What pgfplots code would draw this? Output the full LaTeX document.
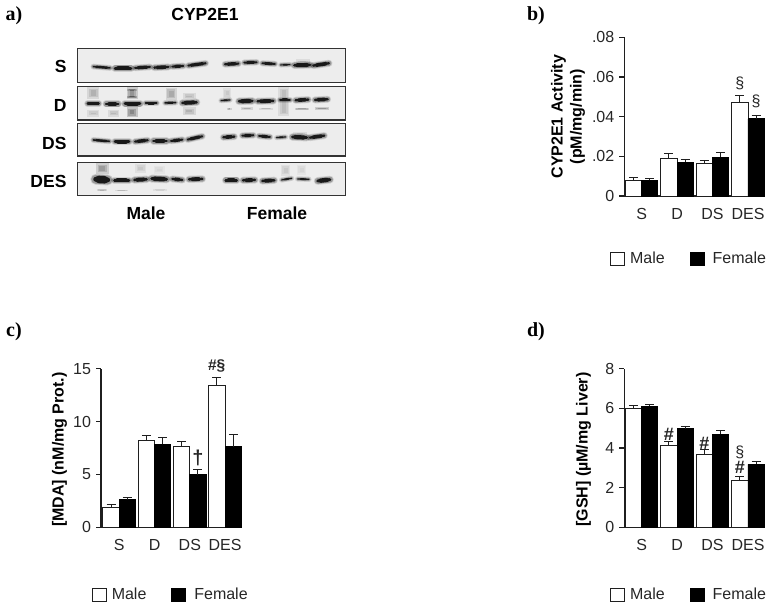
\documentclass[border=0pt]{standalone}
\usepackage{fontspec}
\setmainfont{Liberation Sans}
\newfontfamily\timesf{Liberation Serif}
\usepackage{pgfplots}
\pgfplotsset{compat=1.18}
\newcommand{\fs}[1]{\fontsize{#1}{#1}\selectfont}
\definecolor{axc}{gray}{0.12}
% western-blot helpers, coordinates in the panel's own pixel grid
\newcommand{\band}[5]{%
  \addplot[black,opacity=0.12,line width=#5pt+3.4pt,line cap=round,forget plot] coordinates {(#1,#2) (#3,#4)};
  \addplot[black,opacity=0.25,line width=#5pt+1.6pt,line cap=round,forget plot] coordinates {(#1,#2) (#3,#4)};
  \addplot[black!90,line width=#5pt*0.65,line cap=round,forget plot] coordinates {(#1,#2) (#3,#4)};
  \addplot[black!90,line width=#5pt,line cap=round,shorten <=3pt,shorten >=3pt,forget plot] coordinates {(#1,#2) (#3,#4)};}
\newcommand{\smear}[6]{%
  \addplot[black,opacity=#6,line width=#5pt,forget plot] coordinates {(#1,#2) (#3,#4)};
  \addplot[black,opacity=#6,line width=#5pt*0.72,shorten <=1.5pt,shorten >=1.5pt,forget plot] coordinates {(#1,#2) (#3,#4)};
  \addplot[black,opacity=#6,line width=#5pt*0.45,shorten <=3pt,shorten >=3pt,forget plot] coordinates {(#1,#2) (#3,#4)};}
\newcommand{\blot}[2]{%
  \addplot[fill=black!7,draw=black!80,line width=1.3pt,forget plot] coordinates {(233,#1) (1036,#1) (1036,#2) (233,#2)} -- cycle;}
\pgfplotsset{
  barpanel/.style={
    scale only axis, width=140.7pt, height=158.6pt,
    anchor=south west, clip=false,
    ybar=0pt, bar width=16.3pt,
    ymin=0, scaled y ticks=false,
    axis lines=left, axis line style={-,line width=1.2pt,axc},
    xtick={0,1,2,3}, xticklabels={S,D,DS,DES},
    major x tick style={draw=none}, major tick length=5pt,
    ytick style={line width=1.1pt,axc},
    tick align=outside,
    tick label style={font=\fs{16},text=black!85},
    xticklabel style={yshift=-3pt,text height=12pt,text depth=0pt},
    yticklabel style={xshift=-1.5pt},
    legend style={draw=none,fill=none,inner sep=0pt,outer sep=0pt,anchor=west,
      legend columns=2,font=\fs{16},text=black!85,
      /tikz/every odd column/.style={column sep=3pt},
      /tikz/every even column/.style={column sep=23pt}},
    legend cell align=left,
  },
  male/.style={fill=white,draw=axc,line width=0.9pt,
    error bars/.cd,y dir=plus,y explicit,
    error bar style={line width=1pt,axc},
    error mark options={rotate=90,mark size=4.5pt,line width=1pt,axc}},
  female/.style={fill=black,draw=black,line width=0.9pt,
    error bars/.cd,y dir=plus,y explicit,
    error bar style={line width=1pt,axc},
    error mark options={rotate=90,mark size=4.5pt,line width=1pt,axc}},
  boxmale/.style={legend image code/.code={\draw[fill=white,draw=axc,line width=0.9pt] (0pt,-6.5pt) rectangle (14pt,6.5pt);}},
  boxfemale/.style={legend image code/.code={\draw[fill=black,draw=black,line width=0.9pt] (0pt,-6.5pt) rectangle (14pt,6.5pt);}},
}
\begin{document}
\begin{tikzpicture}[x=1pt,y=1pt]
\path (0,0) rectangle (774,607);

% ---------- panel letters
\node[font=\timesf\bfseries\fs{20}] at (14,591) {a)};
\node[font=\timesf\bfseries\fs{20}] at (536,591) {b)};
\node[font=\timesf\bfseries\fs{20}] at (14,275) {c)};
\node[font=\timesf\bfseries\fs{20}] at (536,275) {d)};

% ---------- panel a: blots
\node[font=\bfseries\fs{17.5}] at (205,593) {CYP2E1};
\node[font=\bfseries\fs{17.5},anchor=east] at (70,541) {S};
\node[font=\bfseries\fs{17.5},anchor=east] at (70,502) {D};
\node[font=\bfseries\fs{17.5},anchor=east] at (70,464) {DS};
\node[font=\bfseries\fs{17.5},anchor=east] at (70,426) {DES};
\node[font=\bfseries\fs{17.5}] at (146,394) {Male};
\node[font=\bfseries\fs{17.5}] at (277,394) {Female};
\begin{axis}[at={(77.7pt,411.7pt)},anchor=south west,scale only axis,width=267.6pt,height=146.7pt,
  hide axis,clip=false,xmin=233,xmax=1036,ymin=146,ymax=586,y dir=reverse]
\blot{146}{248}
\blot{260}{360}
\blot{371}{468}
\blot{487}{586}
% S
\band{280}{200}{330}{204}{2.4}
\band{345}{205}{393}{205}{4}
\band{405}{204}{450}{201}{3.2}
\band{463}{203}{505}{201}{3.6}
\band{517}{200}{550}{198}{3.2}
\band{565}{197}{617}{190}{3.2}
\band{675}{193}{715}{191}{3.4}
\band{733}{188}{770}{187}{3}
\band{787}{190}{825}{192}{2.8}
\band{842}{195}{870}{194}{1.8}
\smear{910}{178}{910}{192}{14}{0.07}
\band{883}{196}{930}{195}{4}
\band{940}{197}{987}{190}{3.6}
% D smears
\smear{280}{262}{280}{296}{12}{0.09}
\smear{280}{330}{280}{350}{12}{0.07}
\smear{341}{330}{341}{350}{11}{0.08}
\smear{396}{262}{396}{298}{11}{0.14}
\smear{396}{322}{396}{352}{11}{0.17}
\smear{514}{264}{514}{300}{11}{0.1}
\smear{568}{278}{568}{298}{13}{0.08}
\smear{568}{322}{568}{346}{13}{0.09}
\smear{682}{265}{682}{295}{8}{0.05}
\smear{852}{262}{852}{348}{11}{0.07}
\smear{680}{327}{695}{327}{2}{0.12}
\smear{722}{326}{758}{326}{2.4}{0.1}
\smear{778}{326}{818}{326}{2}{0.08}
\smear{885}{327}{928}{327}{2.4}{0.12}
\smear{945}{326}{988}{326}{2.4}{0.14}
\smear{382}{270}{410}{270}{1.5}{0.16}
\smear{382}{290}{410}{290}{2}{0.2}
% D
\band{263}{311}{296}{311}{3.6}
\band{318}{312}{355}{312}{3.6}
\band{375}{311}{420}{311}{4.2}
\band{437}{310}{470}{310}{2.8}
\band{495}{309}{527}{308}{2.2}
\band{547}{309}{590}{307}{4}
\band{663}{302}{690}{300}{1.8}
\band{717}{304}{757}{303}{4.2}
\band{773}{304}{820}{303}{3.8}
\band{840}{300}{870}{300}{3}
\band{887}{301}{925}{299}{3.6}
\band{945}{300}{983}{298}{3.6}
% DS
\band{280}{420}{328}{424}{2.4}
\band{345}{425}{387}{425}{4}
\band{405}{425}{443}{421}{3.4}
\band{460}{423}{500}{423}{3.8}
\band{513}{423}{547}{419}{3.2}
\band{563}{419}{607}{409}{3.2}
\band{670}{412}{703}{410}{3.6}
\band{727}{407}{760}{406}{3.2}
\band{777}{408}{810}{411}{3}
\band{830}{413}{857}{411}{1.8}
\smear{900}{396}{900}{408}{14}{0.07}
\band{877}{411}{920}{413}{4.2}
\band{930}{413}{973}{407}{3.6}
% DES
\smear{307}{490}{307}{522}{13}{0.13}
\smear{422}{492}{422}{518}{11}{0.05}
\smear{478}{498}{478}{522}{11}{0.03}
\smear{857}{495}{857}{528}{9}{0.05}
\smear{905}{495}{905}{525}{9}{0.03}
\smear{290}{570}{322}{570}{2}{0.09}
\smear{345}{572}{385}{572}{1.5}{0.08}
\smear{460}{570}{500}{570}{1.5}{0.06}
\band{287}{538}{323}{540}{7.5}
\band{343}{541}{387}{541}{3.8}
\band{403}{540}{440}{538}{4}
\band{455}{536}{500}{538}{4.6}
\band{517}{537}{547}{540}{3.6}
\band{567}{538}{607}{537}{3.8}
\band{677}{541}{710}{541}{4}
\band{729}{541}{765}{540}{3.8}
\band{787}{543}{823}{541}{3.8}
\band{845}{540}{875}{535}{1.8}
\band{893}{537}{927}{538}{1.8}
\band{953}{543}{990}{539}{4.4}
\end{axis}

% ---------- panel b
\begin{axis}[barpanel,at={(624.3pt,411pt)},
  ymax=0.08,xmin=-0.489,xmax=3.48,
  ytick={0,0.02,0.04,0.06,0.08},yticklabels={0,.02,.04,.06,.08},
  ylabel={CYP2E1 Activity\\(pM/mg/min)},
  every axis y label/.style={at={(axis description cs:-0.40,0.5)},rotate=90,anchor=center,align=center,font=\bfseries\fontsize{16}{19}\selectfont,text=black,inner sep=0pt},
  legend style={at={(axis description cs:-0.10,-0.395)}}]
\addplot[boxmale,male] coordinates {(0,0.0079) +- (0,0.0015) (1,0.019) +- (0,0.0023) (2,0.0163) +- (0,0.0018) (3,0.047) +- (0,0.0035)};
\addplot[boxfemale,female] coordinates {(0,0.0079) +- (0,0.0008) (1,0.0171) +- (0,0.0013) (2,0.0195) +- (0,0.0025) (3,0.0389) +- (0,0.0019)};
\legend{Male,\hspace*{3pt}Female}
\node[font=\fs{16},text=black!85] at (axis cs:2.77,0.0569) {§};
\node[font=\fs{16},text=black!85] at (axis cs:3.23,0.0478) {§};
\end{axis}

% ---------- panel c
\begin{axis}[barpanel,at={(101pt,79.7pt)},
  ymax=15,xmin=-0.517,xmax=3.47,
  ytick={0,5,10,15},yticklabels={0,5,10,15},
  ylabel={[MDA] (nM/mg Prot.)},
  every axis y label/.style={at={(axis description cs:-0.295,0.49)},rotate=90,anchor=center,font=\bfseries\fs{16},text=black,inner sep=0pt},
  legend style={at={(axis description cs:-0.065,-0.425)}}]
\addplot[boxmale,male] coordinates {(0,1.86) +- (0,0.32) (1,8.2) +- (0,0.52) (2,7.64) +- (0,0.51) (3,13.4) +- (0,0.8)};
\addplot[boxfemale,female] coordinates {(0,2.6) +- (0,0.24) (1,7.86) +- (0,0.6) (2,4.98) +- (0,0.45) (3,7.64) +- (0,1.16)};
\legend{Male,\hspace*{3pt}Female}
\node[font=\bfseries\fs{15.5},text=black!85,inner sep=0pt] at (axis cs:2.76,15.25) {\#§};
\node[font=\bfseries\fs{20},text=black!85] at (axis cs:2.23,6.54) {†};
\end{axis}

% ---------- panel d
\begin{axis}[barpanel,at={(624.3pt,79.7pt)},
  ymax=8,xmin=-0.489,xmax=3.48,
  ytick={0,2,4,6,8},yticklabels={0,2,4,6,8},
  ylabel={[GSH] (µM/mg Liver)},
  every axis y label/.style={at={(axis description cs:-0.29,0.49)},rotate=90,anchor=center,font=\bfseries\fs{16},text=black,inner sep=0pt},
  legend style={at={(axis description cs:-0.10,-0.425)}}]
\addplot[boxmale,male] coordinates {(0,6.0) +- (0,0.15) (1,4.15) +- (0,0.17) (2,3.66) +- (0,0.26) (3,2.37) +- (0,0.18)};
\addplot[boxfemale,female] coordinates {(0,6.1) +- (0,0.08) (1,4.97) +- (0,0.13) (2,4.7) +- (0,0.19) (3,3.18) +- (0,0.15)};
\legend{Male,\hspace*{3pt}Female}
\node[font=\bfseries\fs{18},text=black!85] at (axis cs:0.77,4.7) {\#};
\node[font=\bfseries\fs{18},text=black!85] at (axis cs:1.77,4.24) {\#};
\node[font=\fs{16},text=black!85] at (axis cs:2.77,3.76) {§};
\node[font=\bfseries\fs{18},text=black!85] at (axis cs:2.77,3.0) {\#};
\end{axis}
\end{tikzpicture}
\end{document}
